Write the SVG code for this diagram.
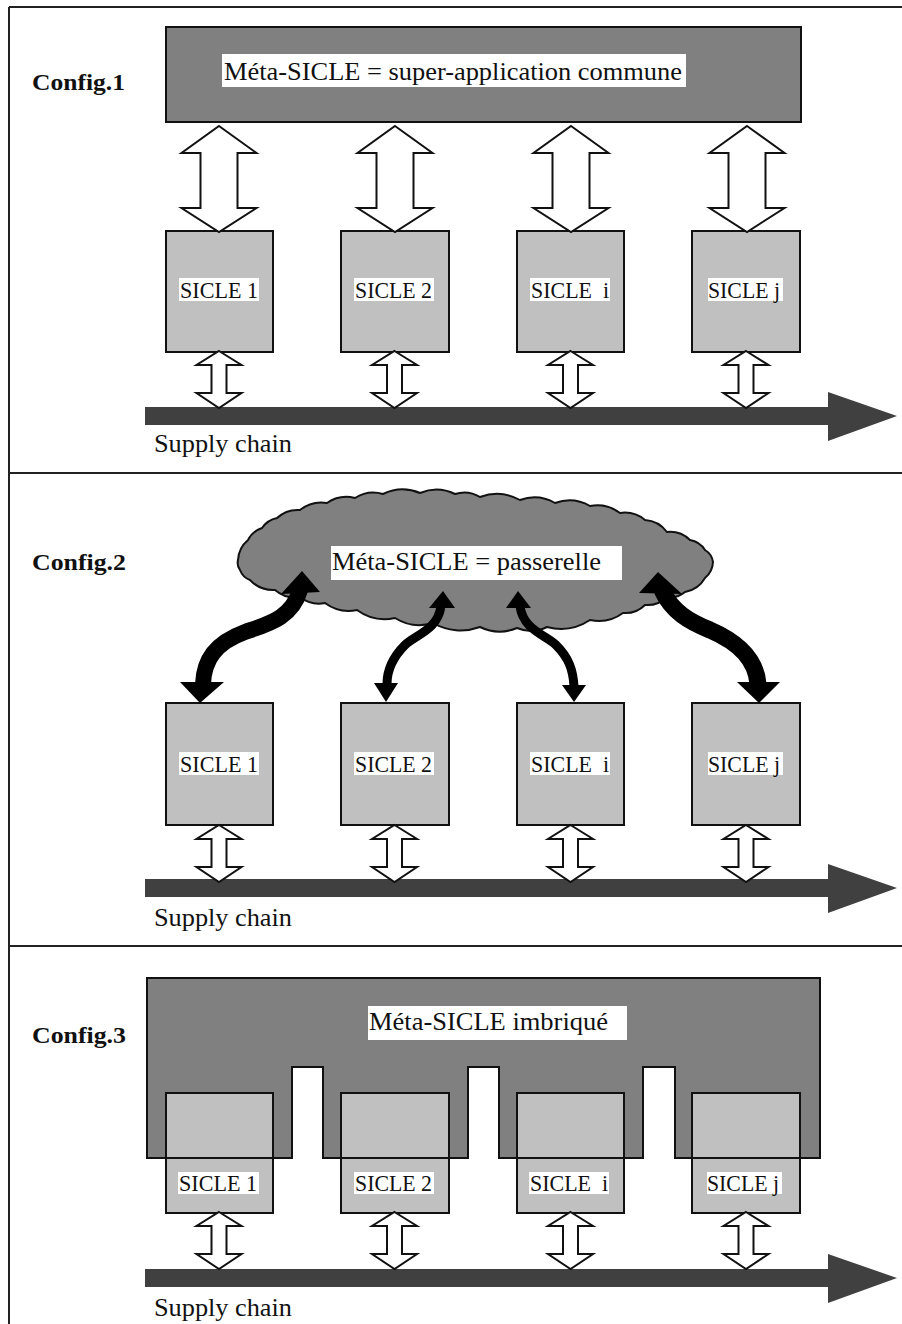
<svg xmlns="http://www.w3.org/2000/svg" xmlns:xlink="http://www.w3.org/1999/xlink" width="902" height="1324" viewBox="0 0 902 1324" font-family="'Liberation Serif', 'DejaVu Serif', 'Times New Roman', serif">
<style>
.frame{stroke:#222;stroke-width:2;fill:none}
.meta{fill:#808080;stroke:#111;stroke-width:2}
.box{fill:#c0c0c0;stroke:#111;stroke-width:2}
.lblbg{fill:#fff}
.t{font-family:'Liberation Serif','DejaVu Serif','Times New Roman',serif;fill:#111}
.cfg{font-weight:bold;font-size:24px}
.mt{font-size:26px}
.st{font-size:24px;white-space:pre}
.sc{font-size:25px}
.dbl{fill:#fff;stroke:#111;stroke-width:2;stroke-linejoin:miter}
.chain{fill:#404040}
.curve{fill:none;stroke:#000}
.head{fill:#000}
</style>
<defs>
<polygon id="bigArrow" class="dbl" points="0,0 37.5,27 18.5,27 18.5,82 37.5,82 0,106 -37.5,82 -18.5,82 -18.5,27 -37.5,27"/>
<polygon id="smallArrow" class="dbl" points="0,0 22.5,14 7.5,14 7.5,42 22.5,42 0,57 -22.5,42 -7.5,42 -7.5,14 -22.5,14"/>
<polygon id="chainArrow" class="chain" points="0,-9 683,-9 683,-24 752,0 683,25 683,9 0,9"/>
</defs>
<rect width="902" height="1324" fill="#fff"/>
<g id="frame">
<line class="frame" x1="9" y1="7" x2="902" y2="7"/>
<line class="frame" x1="9" y1="7" x2="9" y2="1324"/>
<line class="frame" x1="9" y1="473" x2="902" y2="473"/>
<line class="frame" x1="9" y1="946" x2="902" y2="946"/>
</g>

<!-- Config 1 -->
<g id="config1-label"><text class="t cfg" x="32" y="90" textLength="93" lengthAdjust="spacingAndGlyphs">Config.1</text></g>
<g id="meta1">
<rect class="meta" x="166" y="27" width="635" height="95"/>
<rect class="lblbg" x="222" y="54" width="464" height="33"/>
<text class="t mt" x="224" y="80" textLength="458" lengthAdjust="spacingAndGlyphs">Méta-SICLE = super-application commune</text>
</g>
<g id="c1-sicle1"><rect class="box" x="166" y="231" width="107" height="121"/><rect class="lblbg" x="179" y="278" width="80" height="23"/><text class="t st" x="180" y="298" textLength="78" lengthAdjust="spacingAndGlyphs">SICLE 1</text></g>
<g id="c1-sicle2"><rect class="box" x="341" y="231" width="108" height="121"/><rect class="lblbg" x="354" y="278" width="80" height="23"/><text class="t st" x="355" y="298" textLength="77" lengthAdjust="spacingAndGlyphs">SICLE 2</text></g>
<g id="c1-siclei"><rect class="box" x="517" y="231" width="107" height="121"/><rect class="lblbg" x="530" y="278" width="80" height="23"/><text class="t st" x="531" y="298" textLength="78" lengthAdjust="spacingAndGlyphs">SICLE  i</text></g>
<g id="c1-siclej"><rect class="box" x="692" y="231" width="108" height="121"/><rect class="lblbg" x="708" y="278" width="75" height="23"/><text class="t st" x="708" y="298" textLength="72" lengthAdjust="spacingAndGlyphs">SICLE j</text></g>
<g id="c1-chain"><use xlink:href="#chainArrow" x="145" y="416"/><text class="t sc" x="154" y="452" textLength="138" lengthAdjust="spacingAndGlyphs">Supply chain</text></g>
<g id="c1-connectors">
<use xlink:href="#bigArrow" x="219" y="126"/>
<use xlink:href="#bigArrow" x="395" y="126"/>
<use xlink:href="#bigArrow" x="571" y="126"/>
<use xlink:href="#bigArrow" x="747" y="126"/>
<use xlink:href="#smallArrow" x="219" y="351"/>
<use xlink:href="#smallArrow" x="394.5" y="351"/>
<use xlink:href="#smallArrow" x="570.5" y="351"/>
<use xlink:href="#smallArrow" x="746" y="351"/>
</g>

<!-- Config 2 -->
<g id="config2-label"><text class="t cfg" x="32" y="570" textLength="94" lengthAdjust="spacingAndGlyphs">Config.2</text></g>
<g id="meta2">
<path class="meta" d="M238 560 A28 28 0 0 1 248 540 A24 24 0 0 1 262 528 A24 24 0 0 1 277 518 A30 30 0 0 1 300 510 A34 34 0 0 1 327 503 A34 34 0 0 1 355 498 A34 34 0 0 1 383 494 A45 45 0 0 1 420 493 A42 42 0 0 1 455 494 A30 30 0 0 1 480 497 A48 48 0 0 1 520 500 A42 42 0 0 1 555 503 A42 42 0 0 1 590 506 A38 38 0 0 1 620 513 A32 32 0 0 1 645 520 A30 30 0 0 1 667 532 A29 29 0 0 1 690 540 A22 22 0 0 1 705 550 A17 17 0 0 1 713 562 A22 22 0 0 1 705 578 A29 29 0 0 1 685 592 A23 23 0 0 1 667 597 A28 28 0 0 1 645 605 A28 28 0 0 1 623 613 A41 41 0 0 1 590 620 A53 53 0 0 1 547 627 A36 36 0 0 1 517 628 A45 45 0 0 1 480 627 A56 56 0 0 1 433 623 A46 46 0 0 1 395 618 A47 47 0 0 1 357 610 A40 40 0 0 1 325 603 A31 31 0 0 1 300 597 A31 31 0 0 1 275 590 A32 32 0 0 1 250 580 A17 17 0 0 1 240 570 A12 12 0 0 1 238 560 Z"/>
<rect class="lblbg" x="331" y="546" width="291" height="34"/>
<text class="t mt" x="332" y="570" textLength="269" lengthAdjust="spacingAndGlyphs">Méta-SICLE = passerelle</text>
</g>
<g id="c2-sicle1"><rect class="box" x="166" y="703" width="107" height="122"/><rect class="lblbg" x="179" y="752" width="80" height="23"/><text class="t st" x="180" y="772" textLength="78" lengthAdjust="spacingAndGlyphs">SICLE 1</text></g>
<g id="c2-sicle2"><rect class="box" x="341" y="703" width="108" height="122"/><rect class="lblbg" x="354" y="752" width="80" height="23"/><text class="t st" x="355" y="772" textLength="77" lengthAdjust="spacingAndGlyphs">SICLE 2</text></g>
<g id="c2-siclei"><rect class="box" x="517" y="703" width="107" height="122"/><rect class="lblbg" x="530" y="752" width="80" height="23"/><text class="t st" x="531" y="772" textLength="78" lengthAdjust="spacingAndGlyphs">SICLE  i</text></g>
<g id="c2-siclej"><rect class="box" x="692" y="703" width="108" height="122"/><rect class="lblbg" x="708" y="752" width="75" height="23"/><text class="t st" x="708" y="772" textLength="72" lengthAdjust="spacingAndGlyphs">SICLE j</text></g>
<g id="c2-chain"><use xlink:href="#chainArrow" x="145" y="888"/><text class="t sc" x="154" y="926" textLength="138" lengthAdjust="spacingAndGlyphs">Supply chain</text></g>
<g id="c2-connectors">
<path class="curve" stroke-width="16" d="M300 590 C292 618 268 624 245 632 C215 643 204 660 203 684"/>
<polygon class="head" points="302,571 320,592 281,594"/>
<polygon class="head" points="200,703 180,682 224,682"/>
<path class="curve" stroke-width="9" d="M441 606 C438 630 415 635 405 645 C392 658 387 670 387 684"/>
<polygon class="head" points="443,591 455,608 429,608"/>
<polygon class="head" points="386,702 374,683 398,683"/>
<path class="curve" stroke-width="9" d="M520 606 C523 630 546 635 556 645 C569 658 573 670 574 686"/>
<polygon class="head" points="518,591 531,608 506,608"/>
<polygon class="head" points="574,702 562,685 586,685"/>
<path class="curve" stroke-width="17" d="M662 590 C672 612 690 622 710 630 C740 643 756 660 758 684"/>
<polygon class="head" points="658,572 682,594 639,593"/>
<polygon class="head" points="759,703 737,682 780,682"/>
<use xlink:href="#smallArrow" x="219" y="825"/>
<use xlink:href="#smallArrow" x="394.5" y="825"/>
<use xlink:href="#smallArrow" x="570.5" y="825"/>
<use xlink:href="#smallArrow" x="746" y="825"/>
</g>

<!-- Config 3 -->
<g id="config3-label"><text class="t cfg" x="32" y="1043" textLength="94" lengthAdjust="spacingAndGlyphs">Config.3</text></g>
<g id="meta3">
<path d="M147 978 H820 V1158 H675 V1067 H643 V1158 H499 V1067 H468 V1158 H323 V1067 H292 V1158 H147 Z" fill="#808080"/>
<rect class="lblbg" x="368" y="1006" width="259" height="34"/>
<text class="t mt" x="369" y="1030" textLength="239" lengthAdjust="spacingAndGlyphs">Méta-SICLE imbriqué</text>
</g>
<g id="c3-sicle1"><rect class="box" x="166" y="1093" width="107" height="120"/><rect class="lblbg" x="178" y="1172" width="81" height="22"/><text class="t st" x="179" y="1191" textLength="78" lengthAdjust="spacingAndGlyphs">SICLE 1</text></g>
<g id="c3-sicle2"><rect class="box" x="341" y="1093" width="108" height="120"/><rect class="lblbg" x="354" y="1172" width="80" height="22"/><text class="t st" x="355" y="1191" textLength="77" lengthAdjust="spacingAndGlyphs">SICLE 2</text></g>
<g id="c3-siclei"><rect class="box" x="517" y="1093" width="107" height="120"/><rect class="lblbg" x="529" y="1172" width="80" height="22"/><text class="t st" x="530" y="1191" textLength="78" lengthAdjust="spacingAndGlyphs">SICLE  i</text></g>
<g id="c3-siclej"><rect class="box" x="692" y="1093" width="108" height="120"/><rect class="lblbg" x="707" y="1172" width="75" height="22"/><text class="t st" x="707" y="1191" textLength="72" lengthAdjust="spacingAndGlyphs">SICLE j</text></g>
<g id="meta3-outline"><path d="M147 978 H820 V1158 H675 V1067 H643 V1158 H499 V1067 H468 V1158 H323 V1067 H292 V1158 H147 Z" fill="none" stroke="#111" stroke-width="2"/></g>
<g id="c3-chain"><use xlink:href="#chainArrow" x="145" y="1278"/><text class="t sc" x="154" y="1316" textLength="138" lengthAdjust="spacingAndGlyphs">Supply chain</text></g>
<g id="c3-connectors">
<use xlink:href="#smallArrow" x="219" y="1212"/>
<use xlink:href="#smallArrow" x="394.5" y="1212"/>
<use xlink:href="#smallArrow" x="570.5" y="1212"/>
<use xlink:href="#smallArrow" x="746" y="1212"/>
</g>
</svg>
